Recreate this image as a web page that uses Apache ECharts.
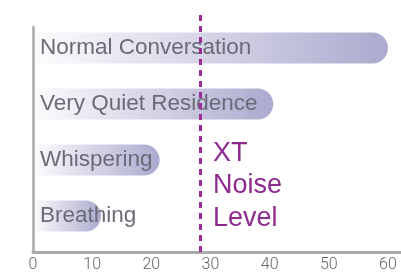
<!DOCTYPE html>
<html>
<head>
<meta charset="utf-8">
<script src="https://cdn.jsdelivr.net/npm/echarts@6/dist/echarts.min.js"></script>
<style>
  html, body { margin: 0; padding: 0; background: #fff; }
  #main { width: 401px; height: 275px; }
</style>
</head>
<body>
<div id="main"></div>
<script>
// noise levels, bottom to top
var categories = ['Breathing', 'Whispering', 'Very Quiet Residence', 'Normal Conversation'];
var noiseValues = [11.5, 21.4, 40.6, 60];
var xtNoiseLevel = 28.3;
var xTicks = [0, 10, 20, 30, 40, 50, 60];
var xMax = 62.2;

var chart = echarts.init(document.getElementById('main'));

var option = {
  animation: false,
  title: {
    text: 'XT\nNoise\nLevel',
    left: 213,
    top: 137,
    padding: 0,
    textStyle: {
      color: '#8d2a8e',
      fontFamily: 'Liberation Sans',
      fontWeight: 'normal',
      fontSize: 27,
      lineHeight: 32.5
    }
  },
  grid: [
    // bars
    { left: 33, right: 0, top: 20, bottom: 31 },
    // visible axes
    { left: 33, right: 0, top: 27, bottom: 23 },
    // marker line
    { left: 33, right: 0, top: 15, bottom: 23 }
  ],
  xAxis: [
    { gridIndex: 0, type: 'value', min: 0, max: xMax, show: false },
    {
      gridIndex: 1, type: 'value', min: xTicks[0], max: xMax, interval: 10,
      axisLine: { show: true, lineStyle: { color: '#aaaaaa', width: 3 } },
      axisTick: { show: false },
      splitLine: { show: false },
      axisLabel: {
        showMaxLabel: false,
        color: '#666',
        fontFamily: 'Roboto',
        fontWeight: 300,
        fontSize: 16,
        margin: 5
      }
    },
    { gridIndex: 2, type: 'value', min: 0, max: xMax, show: false }
  ],
  yAxis: [
    { gridIndex: 0, type: 'category', data: categories, show: false },
    {
      gridIndex: 1, type: 'value', min: 0, max: 1,
      axisLine: { show: true, lineStyle: { color: '#aaaaaa', width: 2.5 } },
      axisTick: { show: false },
      axisLabel: { show: false },
      splitLine: { show: false }
    },
    { gridIndex: 2, type: 'value', min: 0, max: 1, show: false }
  ],
  series: [
    {
      type: 'bar',
      xAxisIndex: 0,
      yAxisIndex: 0,
      data: noiseValues,
      barWidth: 31,
      itemStyle: {
        borderRadius: [0, 16, 16, 0],
        color: new echarts.graphic.LinearGradient(0, 0, 1, 0, [
          { offset: 0, color: 'rgba(172,170,206,0.03)' },
          { offset: 1, color: 'rgba(172,170,206,1)' }
        ])
      },
      label: {
        show: true,
        position: 'insideLeft',
        distance: 7,
        formatter: '{b}',
        color: '#6b6b78',
        fontFamily: 'Liberation Sans',
        fontSize: 22.5
      }
    },
    {
      type: 'line',
      xAxisIndex: 2,
      yAxisIndex: 2,
      data: [],
      markLine: {
        silent: true,
        symbol: ['none', 'none'],
        label: { show: false },
        lineStyle: { color: '#9b2d98', width: 3, type: [6, 5] },
        data: [{ xAxis: xtNoiseLevel }]
      }
    }
  ]
};

chart.setOption(option);
</script>
</body>
</html>
